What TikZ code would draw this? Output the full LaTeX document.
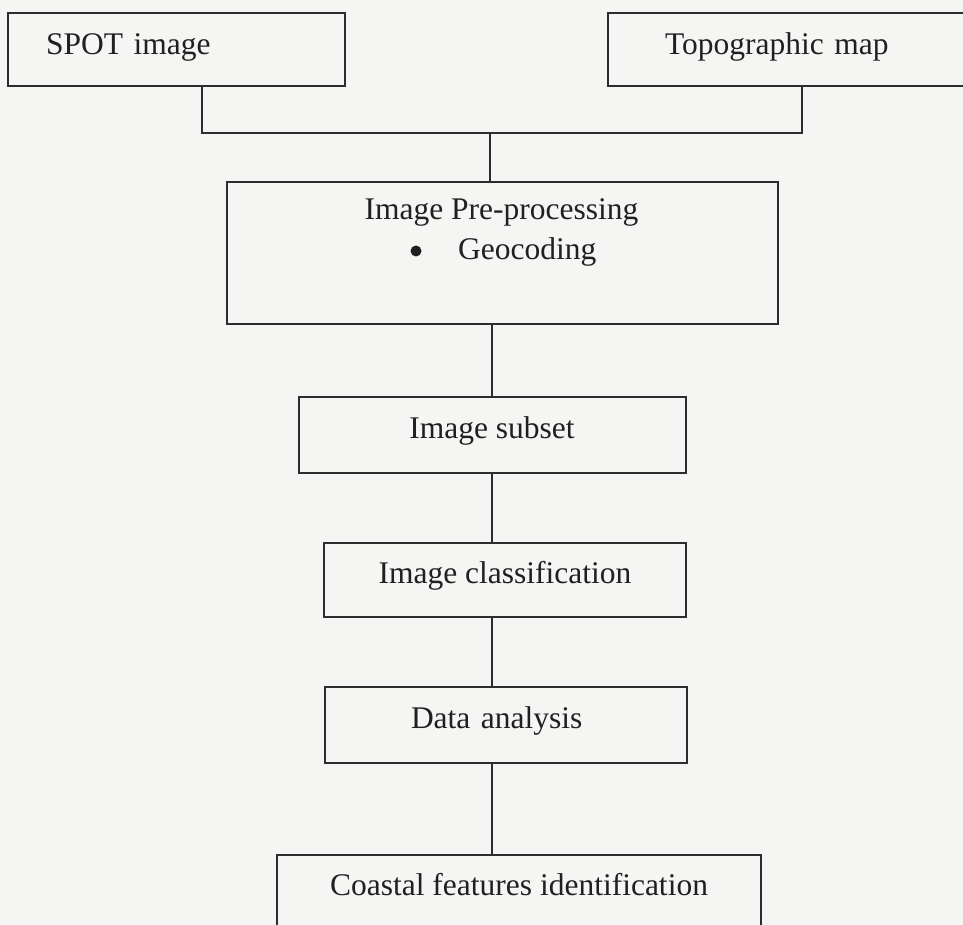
\documentclass[tikz,border=0pt]{standalone}
\usepackage{fontspec}
\setmainfont{Liberation Serif}
\definecolor{paper}{RGB}{245,245,243}
\definecolor{ink}{RGB}{32,32,32}
\definecolor{rule}{RGB}{45,45,45}
\begin{document}
\begin{tikzpicture}[x=1pt,y=-1pt,
  every node/.style={inner sep=0pt, text=ink, font=\fontsize{31.5}{40}\selectfont},
  flowbox/.style={draw=rule, line width=2pt, rectangle, text height=18pt, text depth=12pt},
  padbox/.style={flowbox, align=left},
  link/.style={draw=rule, line width=2pt}
]
\useasboundingbox (0,0) rectangle (963,925);
\clip (0,0) rectangle (963,925);
\fill[paper] (0,0) rectangle (963,925);

% input sources
\node[padbox, minimum width=337pt, minimum height=73pt, inner xsep=38pt,
      text width=261pt, text height=20pt, text depth=9pt] (spot) at (176.5,49.5) {SPOT image};
\node[padbox, minimum width=372pt, minimum height=73pt, inner xsep=57pt,
      text width=258pt, text height=20pt, text depth=9pt] (topo) at (794,49.5) {Topographic map};

% pre-processing step with its sub-item
\node[flowbox, minimum width=551pt, minimum height=142pt, text height=0pt, text depth=0pt] (pre) at (502.5,253) {};
\node[anchor=base] (pretitle) at (501.5,220) {Image Pre-processing};
\node[circle, fill=ink, minimum size=11pt] (prebullet) at (416,251) {};
\node[anchor=base west] (preitem) at (458,260) {Geocoding};

% processing chain
\node[flowbox, minimum width=387pt, minimum height=76pt] (subset) at (492,435) {Image subset};
\node[flowbox, minimum width=362pt, minimum height=74pt] (classif) at (505,580) {Image classification};
\node[padbox, minimum width=362pt, minimum height=76pt, inner xsep=86pt,
      text width=190pt] (data) at (506,725) {Data analysis};
\node[flowbox, minimum width=484pt, minimum height=74pt] (coastal) at (519,892) {Coastal features identification};

% merge of the two sources
\coordinate (merge) at (490,133);
\draw[link] ([xshift=25.5pt]spot.south) |- (merge) -| ([xshift=8pt]topo.south);
\draw[link] (merge) -- (merge |- pre.north);

% vertical chain
\draw[link] (subset.north |- pre.south) -- (subset.north);
\draw[link] (subset.south) -- (subset.south |- classif.north);
\draw[link] (classif.south -| subset.south) -- (data.north -| subset.south);
\draw[link] (data.south -| subset.south) -- (coastal.north -| subset.south);
\end{tikzpicture}
\end{document}
